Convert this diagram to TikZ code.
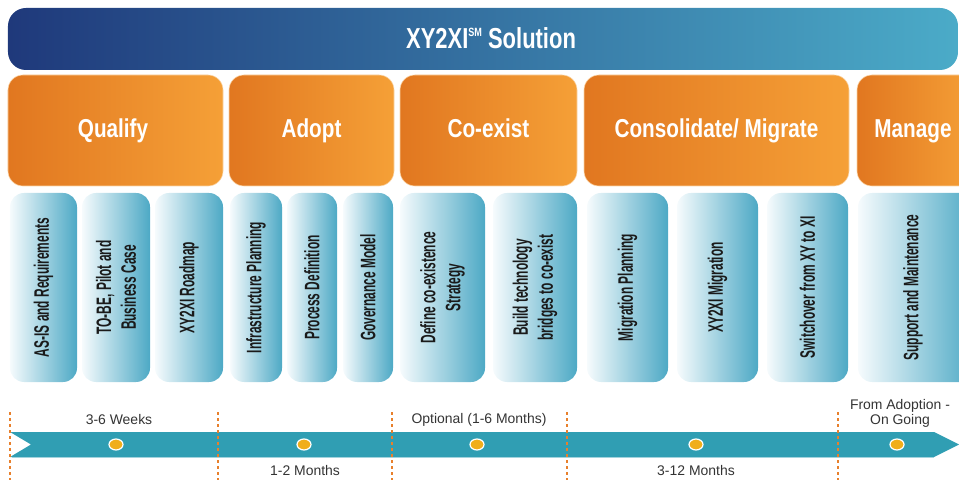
\documentclass[tikz,border=0pt]{standalone}
\usepackage{fontspec}
\setmainfont{Liberation Sans}
\newfontfamily\ttlfont[FakeStretch=0.76]{Liberation Sans}
\newfontfamily\phfont[FakeStretch=0.8]{Liberation Sans}
\newfontfamily\stfont[FakeStretch=0.57]{Liberation Sans}
\usetikzlibrary{shapes.geometric}
\definecolor{navy}{HTML}{1F397B}
\definecolor{midblue}{HTML}{2E6A9F}
\definecolor{lightteal}{HTML}{4BABC8}
\definecolor{orL}{HTML}{E17720}
\definecolor{orR}{HTML}{F5A037}
\definecolor{stL}{HTML}{F6FBFD}
\definecolor{stM}{HTML}{A6D5E3}
\definecolor{stR}{HTML}{4DA9C5}
\definecolor{barc}{HTML}{309EB3}
\definecolor{dotc}{HTML}{F0AE1A}
\definecolor{dashc}{HTML}{E8802C}
\definecolor{lbl}{HTML}{333333}
\definecolor{sttext}{HTML}{1A1A1A}
\tikzset{
  banner/.style={rectangle, rounded corners=18bp, left color=navy, middle color=midblue, right color=lightteal, inner sep=0pt, outer sep=0pt},
  phase/.style={rectangle, rounded corners=15bp, left color=orL, right color=orR, draw=orR!45!white, line width=0.6bp, inner sep=0pt, outer sep=0pt, minimum height=111bp},
  phasetext/.style={text=white, font=\phfont\bfseries\fontsize{26}{30}\selectfont, inner sep=0pt, anchor=base},
  stepbox/.style={rectangle, rounded corners=14bp, left color=stL, middle color=stM, right color=stR, inner sep=0pt, outer sep=0pt, minimum height=189bp},
  steptext/.style={rotate=90, text=sttext, align=center, font=\stfont\bfseries\fontsize{21}{25}\selectfont, inner sep=0pt},
  dashline/.style={dashc, line width=1.5bp, dash pattern=on 3bp off 3bp},
  dot/.style={ellipse, fill=dotc, draw=white, line width=1.2bp, minimum width=14bp, minimum height=11bp, inner sep=0pt},
  lbltext/.style={text=lbl, font=\fontsize{14}{15}\selectfont, align=center, inner sep=0pt}
}
\begin{document}
\begin{tikzpicture}[x=1bp, y=-1bp]
\useasboundingbox (0,0) rectangle (959,480);
\clip (0,0) rectangle (959,480);
% banner
\node[banner, minimum width=950bp, minimum height=62bp] (ban) at (483,39) {};
\node[text=white, font=\ttlfont\bfseries\fontsize{29}{32}\selectfont, inner sep=0pt, anchor=base] (title) at (491,48.5) {XY2XI\raisebox{12bp}{\fontsize{12}{12}\selectfont SM} Solution};
% phases
\node[phase, minimum width=215bp] (qual) at (115.5,130.5) {};
\node[phase, minimum width=165bp] (adopt) at (311.5,130.5) {};
\node[phase, minimum width=177bp] (coex) at (488.5,130.5) {};
\node[phase, minimum width=265bp] (cons) at (716.5,130.5) {};
\node[phase, minimum width=118bp] (mana) at (916,130.5) {};
\node[phasetext] (tqual) at (113,137.5) {Qualify};
\node[phasetext] (tadopt) at (311.5,137.5) {Adopt};
\node[phasetext] (tcoex) at (488.5,137.5) {Co-exist};
\node[phasetext] (tcons) at (716.5,137.5) {Consolidate/ Migrate};
\node[phasetext] (tmana) at (913,137.5) {Manage};
% steps
\node[stepbox, minimum width=67bp] (s1) at (43.5,287.5) {};
\node[stepbox, minimum width=68bp] (s2) at (116,287.5) {};
\node[stepbox, minimum width=68bp] (s3) at (189,287.5) {};
\node[stepbox, minimum width=52bp] (s4) at (256,287.5) {};
\node[stepbox, minimum width=50bp] (s5) at (312,287.5) {};
\node[stepbox, minimum width=50bp] (s6) at (368,287.5) {};
\node[stepbox, minimum width=85bp] (s7) at (442.5,287.5) {};
\node[stepbox, minimum width=84bp] (s8) at (535,287.5) {};
\node[stepbox, minimum width=81bp] (s9) at (627.5,287.5) {};
\node[stepbox, minimum width=81bp] (s10) at (717.5,287.5) {};
\node[stepbox, minimum width=81bp] (s11) at (807.5,287.5) {};
\node[stepbox, minimum width=117bp] (s12) at (916.5,287.5) {};
\node[steptext] (t1) at (s1) {AS-IS and Requirements};
\node[steptext] (t2) at (s2) {TO-BE, Pilot and\\Business Case};
\node[steptext] (t3) at (s3) {XY2XI Roadmap};
\node[steptext] (t4) at (s4) {Infrastructure Planning};
\node[steptext] (t5) at (s5) {Process Definition};
\node[steptext] (t6) at (s6) {Governance Model};
\node[steptext] (t7) at (s7) {Define co-existence\\Strategy};
\node[steptext] (t8) at (s8) {Build technology\\bridges to co-exist};
\node[steptext] (t9) at (s9) {Migration Planning};
\node[steptext] (t10) at (s10) {XY2XI Migration};
\node[steptext] (t11) at (s11) {Switchover from XY to XI};
\node[steptext] (t12) at (913,287.5) {Support and Maintenance};
% timeline bar
\fill[barc] (10,432) -- (934,432) -- (959,444.5) -- (934,457) -- (10,457) -- (31,444.5) -- cycle;
\draw[barc!45!white, line width=0.8bp] (12,457) -- (934,457);
% dashed separators
\foreach \xx in {10,218,392,567,838} {
  \draw[dashline] (\xx,412) -- (\xx,480);
}
% dots
\node[dot] (d1) at (116,444.5) {};
\node[dot] (d2) at (304,444.5) {};
\node[dot] (d3) at (477,444.5) {};
\node[dot] (d4) at (696,444.5) {};
\node[dot] (d5) at (897,444.5) {};
% labels
\node[lbltext] (l1) at (119,420) {3-6 Weeks};
\node[lbltext] (l2) at (305,471) {1-2 Months};
\node[lbltext] (l3) at (479,420) {Optional (1-6 Months)};
\node[lbltext] (l4) at (696,471) {3-12 Months};
\node[lbltext] (l5) at (900,413.5) {From Adoption -\\On Going};
\end{tikzpicture}
\end{document}
